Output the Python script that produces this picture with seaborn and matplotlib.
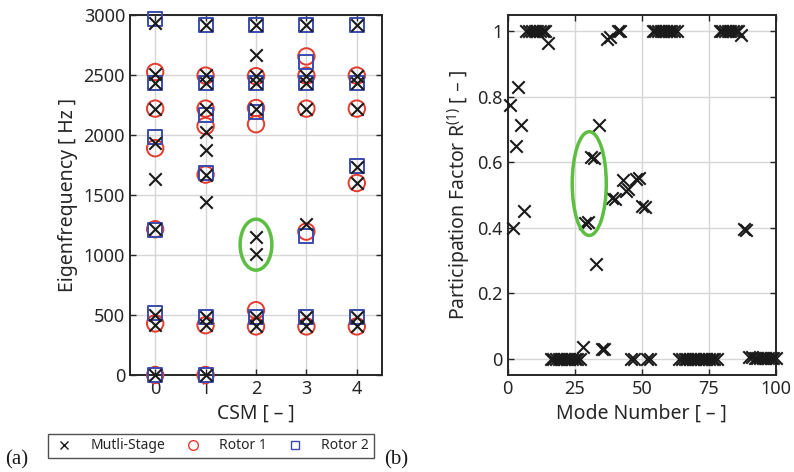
import matplotlib
matplotlib.use('Agg')
import matplotlib.pyplot as plt
from matplotlib.patches import Ellipse
from matplotlib.lines import Line2D
import numpy as np
import pandas as pd
import seaborn as sns

# eigenfrequencies [Hz] per CSM (0..4)
csm_values = [0, 1, 2, 3, 4]

multi_stage_hz = [
    [2930, 2510, 2430, 2220, 1930, 1630, 1215, 500, 420, 0],
    [2920, 2500, 2430, 2220, 2025, 1875, 1665, 1445, 485, 415, 0],
    [2915, 2665, 2490, 2430, 2215, 1150, 1010, 485, 405],
    [2915, 2495, 2430, 2220, 1260, 485, 405],
    [2915, 2495, 2430, 2220, 1735, 1600, 485, 405],
]
rotor1_hz = [
    [2525, 2220, 1890, 1215, 430, 0],
    [2495, 2220, 2075, 1670, 415, 0],
    [2490, 2225, 2090, 540, 405],
    [2655, 2495, 2220, 1195, 405],
    [2495, 2220, 1600, 405],
]
rotor2_hz = [
    [2970, 2430, 1985, 1210, 520, 0],
    [2920, 2430, 2165, 1680, 485, 0],
    [2915, 2430, 2195, 485],
    [2915, 2610, 2430, 1160, 485],
    [2915, 2430, 1740, 485],
]

# participation factor of modes 1..100
participation = [
    0.775, 0.40, 0.65, 0.83, 0.715, 0.45, 1.0, 1.0, 1.0, 1.0,
    1.0, 1.0, 1.0, 1.0, 0.965, 0.0, 0.0, 0.0, 0.0, 0.0,
    0.0, 0.0, 0.0, 0.0, 0.0, 0.0, 0.0, 0.035, 0.415, 0.418,
    0.615, 0.612, 0.29, 0.715, 0.03, 0.028, 0.978, 0.982, 0.49, 0.488,
    1.0, 1.0, 0.545, 0.513, 0.518, 0.0, 0.0, 0.55, 0.553, 0.465,
    0.462, 0.0, 0.0, 1.0, 1.0, 1.0, 1.0, 1.0, 1.0, 1.0,
    1.0, 1.0, 1.0, 0.0, 0.0, 0.0, 0.0, 0.0, 0.0, 0.0,
    0.0, 0.0, 0.0, 0.0, 0.0, 0.0, 0.0, 0.0, 1.0, 1.0,
    1.0, 1.0, 1.0, 1.0, 1.0, 1.0, 0.99, 0.395, 0.392, 0.004,
    0.004, 0.003, 0.003, 0.002, 0.002, 0.002, 0.002, 0.001, 0.001, 0.001,
]
mode_numbers = np.arange(1, len(participation) + 1)

legend_labels = ['Mutli-Stage', 'Rotor 1', 'Rotor 2']

RED = '#e33b2e'
BLUE = '#3a4bb0'
GREEN = '#5dbf42'
TXT = '#262626'


def to_frame(groups):
    rows = [(c, f) for c, fs in zip(csm_values, groups) for f in fs]
    return pd.DataFrame(rows, columns=['CSM', 'Hz'])


df_ms = to_frame(multi_stage_hz)
df_r1 = to_frame(rotor1_hz)
df_r2 = to_frame(rotor2_hz)
df_pf = pd.DataFrame({'mode': mode_numbers, 'pf': participation})

sns.set_theme(style='ticks')
plt.rcParams['font.family'] = ['Noto Sans', 'DejaVu Sans']
plt.rcParams['mathtext.default'] = 'regular'
plt.rcParams['text.color'] = TXT
plt.rcParams['axes.labelcolor'] = TXT

fig = plt.figure(figsize=(7.94, 4.72), dpi=100)
ax1 = fig.add_axes([0.1637, 0.2055, 0.3174, 0.7627])
ax2 = fig.add_axes([0.6394, 0.2055, 0.3379, 0.7627])

# left: eigenfrequencies
sns.scatterplot(data=df_r1, x='CSM', y='Hz', marker='o', s=140, color=RED,
                edgecolor=RED, facecolor='none', linewidth=1.4, ax=ax1,
                legend=False, zorder=3, clip_on=False)
sns.scatterplot(data=df_r2, x='CSM', y='Hz', marker='s', s=100, color=BLUE,
                edgecolor=BLUE, facecolor='none', linewidth=1.4, ax=ax1,
                legend=False, zorder=4, clip_on=False)
sns.scatterplot(data=df_ms, x='CSM', y='Hz', marker='x', s=80, color='k',
                linewidth=1.5, ax=ax1, legend=False, zorder=5, clip_on=False)

ax1.add_patch(Ellipse((2, 1086), 0.63, 425, fill=False, edgecolor=GREEN,
                      lw=2.5, zorder=6))
ax1.set_xlim(-0.5, 4.5)
ax1.set_ylim(0, 3000)
ax1.set_xticks(csm_values)
ax1.set_yticks(range(0, 3001, 500))
ax1.set_xlabel('CSM [ – ]', fontsize=14)
ax1.set_ylabel('Eigenfrequency [ Hz ]', fontsize=14)

# right: participation factor
sns.scatterplot(data=df_pf, x='mode', y='pf', marker='x', s=80, color='k',
                linewidth=1.5, ax=ax2, legend=False, zorder=5, clip_on=False)
ax2.add_patch(Ellipse((30.4, 0.535), 12.7, 0.317, fill=False, edgecolor=GREEN,
                      lw=2.5, zorder=6))
ax2.set_xlim(0, 100)
ax2.set_ylim(-0.05, 1.05)
ax2.set_xticks([0, 25, 50, 75, 100])
ax2.set_yticks([0, 0.2, 0.4, 0.6, 0.8, 1.0])
ax2.set_yticklabels(['0', '0.2', '0.4', '0.6', '0.8', '1'])
ax2.set_xlabel('Mode Number [ – ]', fontsize=14)
ax2.set_ylabel('Participation Factor R$^{(1)}$ [ – ]', fontsize=14)

for ax in (ax1, ax2):
    ax.grid(True, color='#d6d6d6', lw=1)
    ax.set_axisbelow(True)
    for sp in ax.spines.values():
        sp.set_visible(True)
        sp.set_color(TXT)
        sp.set_linewidth(1.4)
    ax.tick_params(direction='in', top=True, right=True, length=4, width=1,
                   labelsize=13, labelcolor=TXT, color=TXT)

handles = [
    Line2D([], [], ls='none', marker='x', color='k', markersize=6, mew=1),
    Line2D([], [], ls='none', marker='o', mfc='none', mec=RED, markersize=7, mew=1),
    Line2D([], [], ls='none', marker='s', mfc='none', mec=BLUE, markersize=6, mew=1),
]
leg = fig.legend(handles, legend_labels, loc='center', bbox_to_anchor=(0.2657, 0.0551),
                 ncol=3, fontsize=10, frameon=True, fancybox=False,
                 edgecolor=TXT, borderpad=0.35, handlelength=1.6,
                 handletextpad=1.1, columnspacing=1.2)
leg.get_frame().set_linewidth(1.0)

fig.text(0.006, 0.025, '(a)', family='Liberation Serif', fontsize=15, va='center', color='k')
fig.text(0.484, 0.025, '(b)', family='Liberation Serif', fontsize=15, va='center', color='k')

fig.savefig('out.png', dpi=100)
